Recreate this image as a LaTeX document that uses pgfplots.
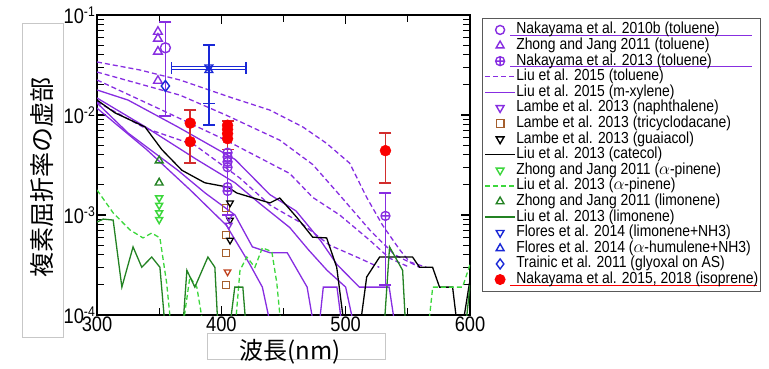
\documentclass[border=0pt]{standalone}
\usepackage{fontspec}
\setmainfont{Liberation Sans}[FakeStretch=0.87]
\newfontfamily\cjk{Noto Sans CJK JP}
\usepackage{pgfplots}
\pgfplotsset{compat=1.18}
\definecolor{mpurple}{RGB}{135,45,225}
\definecolor{mblue}{RGB}{25,40,215}
\definecolor{mdgreen}{RGB}{35,130,35}
\definecolor{mlgreen}{RGB}{60,215,60}
\definecolor{mbrown}{RGB}{165,95,45}
\definecolor{mred}{RGB}{250,0,0}
\definecolor{mdred}{RGB}{210,45,45}
\newcommand{\expo}[1]{10\raisebox{7pt}{\fontsize{14}{14}\selectfont #1}}
\newcommand{\ulineP}[1]{\rlap{\kern-6pt\special{color push rgb 0.53 0.18 0.88}\rule[-2.2pt]{#1}{1.4pt}\special{color pop}}}
\newcommand{\ulineR}[1]{\rlap{\kern-6pt\special{color push rgb 0.98 0 0}\rule[-2.5pt]{#1}{1.4pt}\special{color pop}}}
\pgfplotsset{
  ebar/.style={forget plot, line width=1.6pt},
  ecap/.style={forget plot, only marks, mark=-, mark size=6pt, line width=1.6pt},
  ecapx/.style={forget plot, only marks, mark=|, mark size=6pt, line width=1.6pt},
}
\begin{document}
\begin{tikzpicture}[x=1pt,y=1pt]
\useasboundingbox (0,0) rectangle (769,369);
\begin{axis}[
  at={(97pt,54pt)}, anchor=south west,
  scale only axis, width=373pt, height=300pt,
  xmin=300, xmax=600, ymode=log, ymin=1e-4, ymax=1e-1,
  xtick={300,400,500,600}, xticklabels={300,400,500,600},
  minor x tick num=1,
  ytick={1e-4,1e-3,1e-2,1e-1},
  yticklabels={\expo{-4},\expo{-3},\expo{-2},\expo{-1}},
  tick label style={font=\fontsize{21}{21}\selectfont, inner sep=2pt},
  axis line style={line width=1.3pt},
  major tick style={line width=1.3pt, black},
  minor tick style={line width=1.1pt, black},
  major tick length=9pt, minor tick length=7pt,
  legend image code/.code={\draw[mark repeat=2,mark phase=2,#1] plot coordinates {(0pt,0pt) (15pt,0pt) (30pt,0pt)};},
  legend style={at={(1,1)}, anchor=north west, xshift=12pt, yshift=-3pt,
    draw=black!65, line width=0.9pt, font=\fontsize{16}{16}\selectfont,
    inner xsep=2pt, inner ysep=4pt, row sep=0.6pt,
    nodes={inner sep=0.5pt, text height=11pt, text depth=3pt}},
  legend cell align=left,
]
% ---------------- lines ----------------
\addplot[forget plot, mpurple, line width=1.3pt, dash pattern=on 5pt off 3pt] coordinates {
(300,0.0339)(334.5,0.0282)(366.7,0.0224)(406.8,0.0151)(439,0.0112)(465.5,0.0076)(484.7,0.0052)(503.2,0.0033)(516.9,0.0015)(529.7,0.00079)(543.4,0.00045)(551.4,0.00034)(565,0.0003)};
\addplot[forget plot, mpurple, line width=1.3pt, dash pattern=on 5pt off 3pt] coordinates {
(300,0.0269)(366.7,0.0158)(403.6,0.0100)(447,0.0056)(473.5,0.0032)(495.2,0.00158)(519.3,0.00071)(539.4,0.0004)(559.4,0.0003)};
\addplot[forget plot, mpurple, line width=1.3pt, dash pattern=on 5pt off 3pt] coordinates {
(300,0.0224)(352.2,0.0112)(403.6,0.0056)(455,0.0026)(473.5,0.0015)(495.2,0.001)(519.3,0.00056)(535.3,0.00037)(551.4,0.0003)};
\addplot[forget plot, mpurple, line width=1.3pt, dash pattern=on 5pt off 3pt] coordinates {
(300,0.0135)(338.6,0.0074)(378.7,0.005)(414.9,0.00234)(439,0.00126)(463,0.00085)(487,0.0005)(511,0.00037)(527,0.0003)};
\addplot[forget plot, mpurple, line width=1.3pt] coordinates {
(300,0.0178)(325,0.0141)(365,0.0076)(411,0.0036)(439,0.0016)(460,0.0011)(480,0.00055)(493,0.00032)(511,0.00019)(535,0.00019)(542,0.00005)};
\addplot[forget plot, mpurple, line width=1.3pt] coordinates {
(300,0.0148)(339,0.0076)(380,0.0036)(411,0.0021)(431,0.0013)(455,0.00075)(470,0.00045)(485,0.00028)(500,0.00019)(510,0.00005)};
\addplot[forget plot, mpurple, line width=1.3pt] coordinates {
(300,0.0132)(325,0.0066)(365,0.0028)(387,0.00166)(411,0.001)(425,0.00048)(439,0.00042)(453,0.00042)(469,0.00019)(477,0.00005)(482,0.00019)(493,0.00019)(499,0.00005)};
\addplot[forget plot, mpurple, line width=1.3pt] coordinates {
(300,0.0117)(340,0.0045)(375,0.00178)(404,0.00079)(423,0.00032)(433,0.00019)(443,0.00005)};
\addplot[forget plot, black, line width=1.3pt] coordinates {
(300,0.0141)(314.5,0.0105)(338.6,0.0076)(352.2,0.0045)(368.3,0.0028)(386.7,0.0021)(405.2,0.0019)(412.4,0.00166)(439,0.00132)(447,0.00148)(460.6,0.00095)(473.5,0.0006)(484.7,0.00059)(492.8,0.0003)(500.8,0.00005)(509.6,0.00005)(516.9,0.00024)(527.3,0.00038)(553.8,0.00038)(559.4,0.0003)(569.9,0.0003)(575.5,0.00019)(586,0.00019)(591.6,0.00005)(599.6,0.00021)};
\addplot[forget plot, mlgreen, line width=1.3pt, dash pattern=on 5pt off 3pt] coordinates {
(300,0.00178)(313,0.00105)(326.5,0.00071)(337,0.00059)(344,0.00066)(350.6,0.00059)(356,0.00021)(361,0.00005)(367,0.00005)(374.7,0.00024)(380.3,0.00019)(388,0.00005)(410,0.00005)(415,0.00028)(420.5,0.00038)(427,0.0003)(433,0.00047)(440.6,0.00043)(444.6,0.00021)(449.4,0.00005)(565,0.00005)(570,0.00019)(594,0.00019)(600,0.00032)};
\addplot[forget plot, mdgreen, line width=1.3pt] coordinates {
(300,0.00085)(305,0.00091)(313,0.00089)(320,0.00019)(329,0.00048)(336,0.0003)(344,0.00038)(350.6,0.0003)(356,0.00005)(368,0.00005)(372.3,0.00028)(378.7,0.00019)(389.2,0.00038)(394.8,0.0003)(398,0.00005)(405,0.00005)(410.8,0.00019)(417.3,0.00019)(421,0.00005)(530,0.00005)(535.3,0.00048)(545.8,0.00028)(549,0.00005)(595,0.00005)(600,0.0002)};
% ---------------- error bars ----------------
\addplot[ebar, mpurple] coordinates {(355,0.085)(355,0.0098)};
\addplot[ecap, mpurple] coordinates {(355,0.085)(355,0.0098)};
\addplot[ebar, mblue] coordinates {(390,0.05)(390,0.0079)};
\addplot[ecap, mblue] coordinates {(390,0.05)(390,0.0079)(390,0.013)};
\addplot[ebar, mblue] coordinates {(360,0.0305)(420,0.0305)};
\addplot[ebar, mblue] coordinates {(360,0.0285)(420,0.0285)};
\addplot[ecapx, mblue] coordinates {(360,0.0295)(420,0.0295)};
\addplot[ebar, mpurple] coordinates {(405,0.0056)(405,0.001)};
\addplot[ecap, mpurple] coordinates {(405,0.001)};
\addplot[ebar, mpurple] coordinates {(532,0.00166)(532,0.0002)};
\addplot[ecap, mpurple] coordinates {(532,0.00166)(532,0.0002)};
\addplot[ebar, mdred] coordinates {(375,0.0112)(375,0.0033)};
\addplot[ecap, mdred] coordinates {(375,0.0112)(375,0.0033)};
\addplot[ebar, mdred] coordinates {(405,0.0087)(405,0.0045)};
\addplot[ecap, mdred] coordinates {(405,0.0087)(405,0.0045)};
\addplot[ebar, mdred] coordinates {(532,0.0066)(532,0.0021)};
\addplot[ecap, mdred] coordinates {(532,0.0066)(532,0.0021)};
% ---------------- markers ----------------
\addplot[forget plot, only marks, mark=square, mbrown, mark size=3.5pt, line width=1.3pt] coordinates {(404,0.00118)(404,0.00063)(404,0.00042)(404,0.0002)};
\addplot[forget plot, only marks, mark=triangle, mark options={rotate=180}, black, mark size=3.8pt, line width=1.3pt] coordinates {(407,0.00132)(407,0.00089)(407,0.00056)};
\addplot[forget plot, only marks, mark=triangle, mark options={rotate=180}, mpurple, mark size=3.8pt, line width=1.3pt] coordinates {(406,0.00095)(406,0.00079)};
\addplot[forget plot, only marks, mark=triangle, mark options={rotate=180}, mbrown!70!red, mark size=3.8pt, line width=1.3pt] coordinates {(405,0.00027)};
\addplot[forget plot, only marks, mark=triangle, mark options={rotate=180}, mlgreen, mark size=4pt, line width=1.5pt] coordinates {(350,0.00148)(350,0.00125)(350,0.00105)(350,0.0009)};
\addplot[forget plot, only marks, mark=triangle, mdgreen, mark size=4.5pt, line width=1.4pt] coordinates {(350,0.0035)(350,0.0021)};
\addplot[forget plot, only marks, mark=triangle, mpurple, mark size=5pt, line width=1.4pt] coordinates {(349,0.068)(349,0.058)(349,0.043)(349,0.022)};
\addplot[forget plot, only marks, mark=o, mpurple, mark size=5pt, line width=1.4pt] coordinates {(355,0.047)};
\addplot[forget plot, only marks, mark=diamond, mblue, mark size=5.5pt, line width=1.4pt] coordinates {(355,0.0195)};
\addplot[forget plot, only marks, mark=triangle, mark options={rotate=180}, mblue, mark size=4.5pt, line width=1.4pt] coordinates {(390,0.030)};
\addplot[forget plot, only marks, mark=triangle, mblue, mark size=4.5pt, line width=1.4pt] coordinates {(390,0.028)};
\addplot[forget plot, only marks, mark=oplus, mpurple, mark size=4.5pt, line width=1.3pt] coordinates {
(405,0.0042)(405,0.0038)(405,0.0034)(405,0.0030)(405,0.0019)(405,0.00174)(532,0.00098)};
\addplot[forget plot, only marks, mark=*, mred, mark size=5.5pt] coordinates {
(375,0.0083)(375,0.0054)(405,0.0079)(405,0.0072)(405,0.0065)(405,0.0058)(532,0.0044)};
% ---------------- legend ----------------
\addlegendimage{only marks, mark=o, mpurple, mark size=4.5pt, line width=1.4pt}
\addlegendentry{\ulineP{242pt}Nakayama et al. 2010b (toluene)}
\addlegendimage{only marks, mark=triangle, mpurple, mark size=4.5pt, line width=1.4pt}
\addlegendentry{Zhong and Jang 2011 (toluene)}
\addlegendimage{only marks, mark=oplus, mpurple, mark size=4.5pt, line width=1.3pt}
\addlegendentry{\ulineP{242pt}Nakayama et al. 2013 (toluene)}
\addlegendimage{mpurple, line width=1.3pt, dash pattern=on 5pt off 3pt}
\addlegendentry{Liu et al. 2015 (toluene)}
\addlegendimage{mpurple, line width=1.3pt}
\addlegendentry{Liu et al. 2015 (m-xylene)}
\addlegendimage{only marks, mark=triangle, mark options={rotate=180}, mpurple, mark size=4.5pt, line width=1.4pt}
\addlegendentry{Lambe et al. 2013 (naphthalene)}
\addlegendimage{only marks, mark=square, mbrown, mark size=3.8pt, line width=1.4pt}
\addlegendentry{Lambe et al. 2013 (tricyclodacane)}
\addlegendimage{only marks, mark=triangle, mark options={rotate=180}, black, mark size=4.5pt, line width=1.4pt}
\addlegendentry{Lambe et al. 2013 (guaiacol)}
\addlegendimage{black, line width=1.3pt}
\addlegendentry{Liu et al. 2013 (catecol)}
\addlegendimage{only marks, mark=triangle, mark options={rotate=180}, mlgreen, mark size=4.5pt, line width=1.4pt}
\addlegendentry{Zhong and Jang 2011 ($\alpha$-pinene)}
\addlegendimage{mlgreen, line width=1.3pt, dash pattern=on 5pt off 3pt}
\addlegendentry{Liu et al. 2013 ($\alpha$-pinene)}
\addlegendimage{only marks, mark=triangle, mdgreen, mark size=4.5pt, line width=1.4pt}
\addlegendentry{Zhong and Jang 2011 (limonene)}
\addlegendimage{mdgreen, line width=1.3pt}
\addlegendentry{Liu et al. 2013 (limonene)}
\addlegendimage{only marks, mark=triangle, mark options={rotate=180}, mblue, mark size=4.5pt, line width=1.4pt}
\addlegendentry{Flores et al. 2014 (limonene+NH3)}
\addlegendimage{only marks, mark=triangle, mblue, mark size=4.5pt, line width=1.4pt}
\addlegendentry{Flores et al. 2014 ($\alpha$-humulene+NH3)}
\addlegendimage{only marks, mark=diamond, mblue, mark size=5pt, line width=1.4pt}
\addlegendentry{Trainic et al. 2011 (glyoxal on AS)}
\addlegendimage{only marks, mark=*, mred, mark size=5pt}
\addlegendentry{\ulineR{247pt}Nakayama et al. 2015, 2018 (isoprene)}
\end{axis}
\draw[black!22, line width=0.8pt] (22,32) rectangle (63,346);
\node[rotate=90, font=\cjk\fontsize{25}{25}\selectfont] at (42,191) {複素屈折率の虚部};
\draw[black!22, line width=0.8pt] (207,10) rectangle (385,36);
\node[font=\cjk\fontsize{24}{24}\selectfont] at (290,17) {波長(nm)};
\end{tikzpicture}
\end{document}
